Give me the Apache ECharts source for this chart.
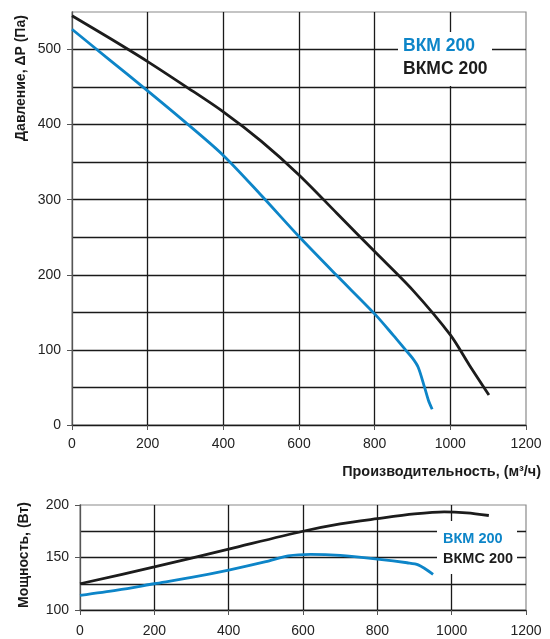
<!DOCTYPE html>
<html><head><meta charset="utf-8">
<script src="https://cdn.jsdelivr.net/npm/echarts@6/dist/echarts.min.js"></script>
<style>html,body{margin:0;padding:0;background:#fff}#c{width:550px;height:639px}</style>
</head><body><div id="c"></div>
<script>
// Pressure curves (flow m3/h, pressure Pa)
const bkmFlow     = [0,100,200,300,400,500,600,700,800,850,880,900,915,932,942,952];
const bkmPressure = [527,486,445,403,359,306,251,199,148,119,101,89,77,50,33,21];
const bkmcFlow     = [0,100,200,300,400,500,600,700,800,900,1000,1050,1102];
const bkmcPressure = [545,515,484,451,417,378,333,282,231,180,120,80,40];
// Power curves (flow m3/h, power W)
const bkmPowerFlow = [0,100,200,300,400,500,560,620,700,800,880,910,950];
const bkmPower     = [114,119,125,131,138,146,151.5,153,152,148.5,145,143,134];
const bkmcPowerFlow = [0,200,400,600,700,800,900,980,1040,1100];
const bkmcPower     = [125,141,158,175,182,187,191.5,193.5,192.5,190];
const legendNames = ['ВКМ 200','ВКМС 200'];
const pressureTitle = 'Давление, ΔP (Па)';
const powerTitle = 'Мощность, (Вт)';
const flowTitle = 'Производительность, (м³/ч)';

const BLUE = '#0d85c8', BLACK = '#1c1c1c', GRID = '#1a1a1a';
const FONT = 'Liberation Sans, Arial, sans-serif';
const zip = (a,b) => a.map((v,i)=>[v,b[i]]);

function xAxisCfg(gi, margin){
  return {type:'value', gridIndex:gi, min:0, max:1200, interval:200,
    axisLine:{show:true, lineStyle:{color:GRID, width:1.3}},
    axisTick:{show:true, length:5, lineStyle:{color:'#555'}},
    axisLabel:{color:'#222', fontSize:14, fontFamily:FONT, margin:margin, formatter:v=>String(v)},
    splitLine:{show:true, showMaxLine:false, showMinLine:false, lineStyle:{color:GRID, width:1.3}}};
}
function yAxisCfg(gi, min, max, interval, margin, showMax){
  return {type:'value', gridIndex:gi, min:min, max:max, interval:interval,
    axisLine:{show:true, lineStyle:{color:'#555', width:1.3}},
    axisTick:{show:true, length:5, lineStyle:{color:'#555'}},
    axisLabel:{color:'#222', fontSize:14, fontFamily:FONT, margin:margin, showMaxLabel:showMax,
      formatter:v=>(v % interval === 0 ? String(v) : '')},
    splitLine:{show:true, showMaxLine:false, showMinLine:false, lineStyle:{color:GRID, width:1.3}},
    minorTick:{show:false, splitNumber:2},
    minorSplitLine:{show:true, lineStyle:{color:GRID, width:1.3}}};
}
function lineSeries(xi, data, color){
  return {type:'line', xAxisIndex:xi, yAxisIndex:xi, data:data, showSymbol:false,
    smooth:0.3, lineStyle:{color:color, width:2.8}, z:5, silent:true};
}
function legendBlock(x, y, w, h, tx, ty1, ty2, fs){
  return [
    {type:'rect', z:50, shape:{x:x, y:y, width:w, height:h}, style:{fill:'#fff'}},
    {type:'text', z:51, x:tx, y:ty1, style:{text:legendNames[0], fill:BLUE, font:'bold '+fs+'px '+FONT, textVerticalAlign:'middle'}},
    {type:'text', z:51, x:tx, y:ty2, style:{text:legendNames[1], fill:BLACK, font:'bold '+fs+'px '+FONT, textVerticalAlign:'middle'}}
  ];
}

const chart = echarts.init(document.getElementById('c'), null, {renderer:'canvas'});
chart.setOption({
  animation:false,
  grid:[
    {left:72, right:24, top:12, bottom:214, show:true, borderColor:'#8a8a8a', borderWidth:1.2, backgroundColor:'transparent'},
    {left:80, right:24, top:505, bottom:29, show:true, borderColor:'#8a8a8a', borderWidth:1.2, backgroundColor:'transparent'}
  ],
  xAxis:[xAxisCfg(0, 12), xAxisCfg(1, 14)],
  yAxis:[yAxisCfg(0, 0, 550, 100, 11, false), yAxisCfg(1, 100, 200, 50, 11, true)],
  series:[
    lineSeries(0, zip(bkmcFlow, bkmcPressure), BLACK),
    lineSeries(0, zip(bkmFlow, bkmPressure), BLUE),
    lineSeries(1, zip(bkmcPowerFlow, bkmcPower), BLACK),
    lineSeries(1, zip(bkmPowerFlow, bkmPower), BLUE)
  ],
  graphic:[
    {type:'text', z:60, x:21, y:78, rotation:Math.PI/2, style:{text:pressureTitle, fill:'#1a1a1a', font:'bold 14px '+FONT, textAlign:'center', textVerticalAlign:'middle'}},
    {type:'text', z:60, x:24, y:555, rotation:Math.PI/2, style:{text:powerTitle, fill:'#1a1a1a', font:'bold 14px '+FONT, textAlign:'center', textVerticalAlign:'middle'}},
    {type:'text', z:60, x:541, y:472, style:{text:flowTitle, fill:'#1a1a1a', font:'bold 14.4px '+FONT, textAlign:'right', textVerticalAlign:'middle'}},
    ...legendBlock(398, 32, 94, 54, 403, 46.5, 69.5, 17.5),
    ...legendBlock(437, 521, 80, 53, 443, 539, 558.5, 14.5)
  ]
});
</script></body></html>
